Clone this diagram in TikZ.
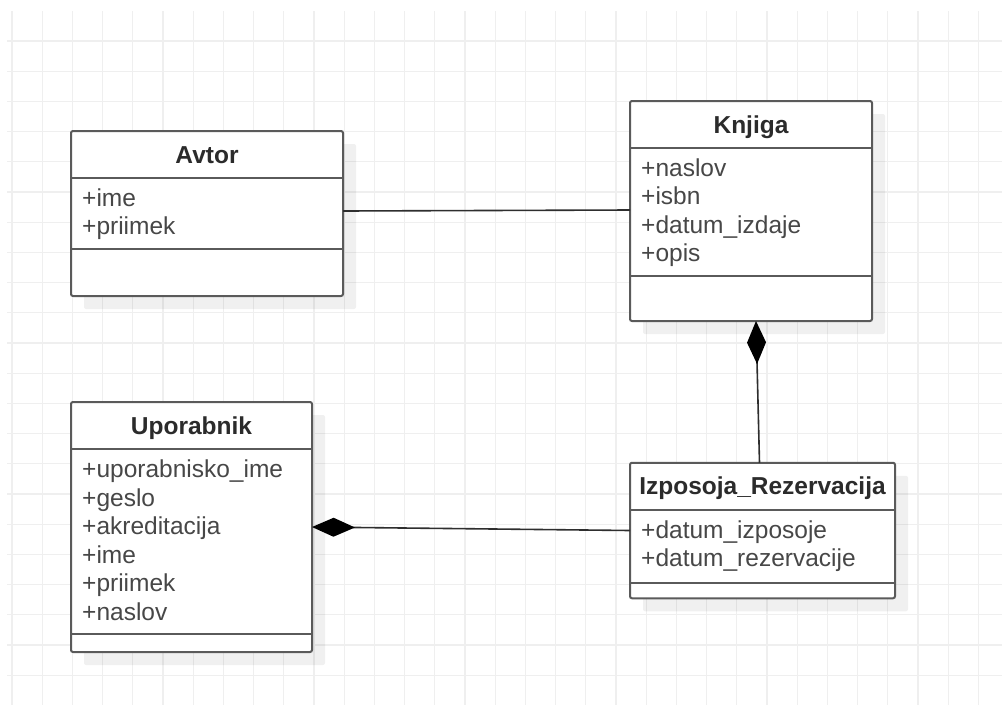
\documentclass[tikz,border=0pt]{standalone}
\usepackage{fontspec}
\setmainfont{Liberation Sans}
\usetikzlibrary{arrows.meta,shadows}
\definecolor{gridc}{HTML}{EFEFEF}
\definecolor{boxc}{HTML}{5A5A5A}
\definecolor{titlec}{HTML}{2B2B2B}
\definecolor{attrc}{HTML}{474747}
\definecolor{linec}{HTML}{2E2E2E}
\begin{document}
\begin{tikzpicture}[x=1pt,y=-1pt,
  gridline/.style={draw=gridc,line width=1.3pt},
  umlbox/.style={draw=boxc,fill=white,line width=2pt,rounded corners=2pt,inner sep=0pt,outer sep=0pt,
    drop shadow={shadow xshift=13pt,shadow yshift=-13pt,fill=black,opacity=0.06}},
  sepline/.style={draw=boxc,line width=2pt},
  title/.style={anchor=base,text=titlec,font=\fontsize{24.5}{28}\selectfont\bfseries,inner sep=0pt},
  attr/.style={anchor=base west,text=attrc,font=\fontsize{24.5}{28}\selectfont,inner sep=0pt},
  assoc/.style={draw=linec,line width=1.6pt},
  comp/.style={draw=linec,line width=1.6pt,{Diamond[length=43pt,width=19pt,color=black]}-}
]
\fill[white] (0,0) rectangle (1002,705);
\useasboundingbox (0,0) rectangle (1002,705);
% grid
\foreach \i in {0,...,32} \draw[gridline] ({12+30.2*\i},11) -- ({12+30.2*\i},705);
\foreach \j in {0,...,21} \draw[gridline] (7,{41+30.2*\j}) -- (1002,{41+30.2*\j});

% Avtor
\node[umlbox,minimum width=272pt,minimum height=165pt] (avtor) at (207,213.5) {};
\draw[sepline] ([yshift=-47pt]avtor.north west) -- ([yshift=-47pt]avtor.north east);
\draw[sepline] ([yshift=-118pt]avtor.north west) -- ([yshift=-118pt]avtor.north east);
\node[title] (avtor-t) at ([yshift=-32pt]avtor.north) {Avtor};
\node[attr] (avtor-a1) at ([xshift=11pt,yshift=-75pt]avtor.north west) {+ime};
\node[attr] (avtor-a2) at ([xshift=11pt,yshift=-103.5pt]avtor.north west) {+priimek};

% Knjiga
\node[umlbox,minimum width=242pt,minimum height=220pt] (knjiga) at (751,211) {};
\draw[sepline] ([yshift=-47pt]knjiga.north west) -- ([yshift=-47pt]knjiga.north east);
\draw[sepline] ([yshift=-175pt]knjiga.north west) -- ([yshift=-175pt]knjiga.north east);
\node[title] (knjiga-t) at ([yshift=-32pt]knjiga.north) {Knjiga};
\node[attr] (knjiga-a1) at ([xshift=11pt,yshift=-75pt]knjiga.north west) {+naslov};
\node[attr] (knjiga-a2) at ([xshift=11pt,yshift=-103.5pt]knjiga.north west) {+isbn};
\node[attr] (knjiga-a3) at ([xshift=11pt,yshift=-132pt]knjiga.north west) {+datum\_izdaje};
\node[attr] (knjiga-a4) at ([xshift=11pt,yshift=-160.5pt]knjiga.north west) {+opis};

% Uporabnik
\node[umlbox,minimum width=241pt,minimum height=250pt] (upor) at (191.5,527) {};
\draw[sepline] ([yshift=-47pt]upor.north west) -- ([yshift=-47pt]upor.north east);
\draw[sepline] ([yshift=-232pt]upor.north west) -- ([yshift=-232pt]upor.north east);
\node[title] (upor-t) at ([yshift=-32.5pt]upor.north) {Uporabnik};
\node[attr] (upor-a1) at ([xshift=11pt,yshift=-75.5pt]upor.north west) {+uporabnisko\_ime};
\node[attr] (upor-a2) at ([xshift=11pt,yshift=-104pt]upor.north west) {+geslo};
\node[attr] (upor-a3) at ([xshift=11pt,yshift=-132.5pt]upor.north west) {+akreditacija};
\node[attr] (upor-a4) at ([xshift=11pt,yshift=-161pt]upor.north west) {+ime};
\node[attr] (upor-a5) at ([xshift=11pt,yshift=-189.5pt]upor.north west) {+priimek};
\node[attr] (upor-a6) at ([xshift=11pt,yshift=-218pt]upor.north west) {+naslov};

% Izposoja_Rezervacija
\node[umlbox,minimum width=265pt,minimum height=135.5pt] (izpo) at (762.5,530.5) {};
\draw[sepline] ([yshift=-47.5pt]izpo.north west) -- ([yshift=-47.5pt]izpo.north east);
\draw[sepline] ([yshift=-120pt]izpo.north west) -- ([yshift=-120pt]izpo.north east);
\node[title] (izpo-t) at ([yshift=-32pt]izpo.north) {Izposoja\_Rezervacija};
\node[attr] (izpo-a1) at ([xshift=11pt,yshift=-75.5pt]izpo.north west) {+datum\_izposoje};
\node[attr] (izpo-a2) at ([xshift=11pt,yshift=-104pt]izpo.north west) {+datum\_rezervacije};

% connectors
\draw[assoc] ([yshift=2.5pt]avtor.east) -- ([yshift=1pt]knjiga.west);
\draw[comp] ([xshift=5pt]knjiga.south) -- ([xshift=-3pt]izpo.north);
\draw[comp] (upor.east) -- (izpo.west);
\end{tikzpicture}
\end{document}
